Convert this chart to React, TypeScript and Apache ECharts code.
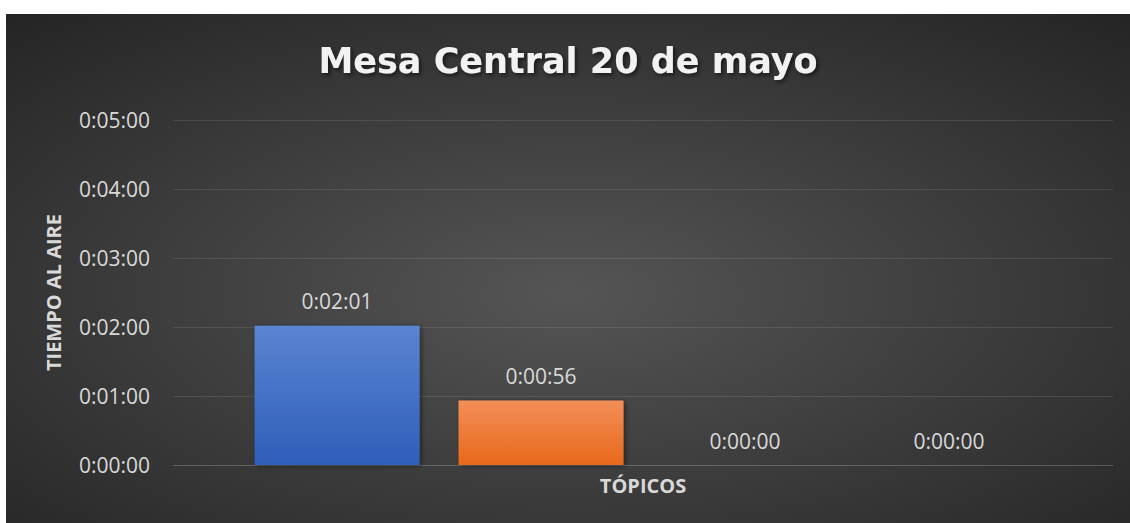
import React, { useEffect, useRef } from "react";
import * as echarts from "echarts";

const titleText = "Mesa Central 20 de mayo";
const categories = [""];
const seriesNames = ["Tópico 1", "Tópico 2", "Tópico 3", "Tópico 4"];
const seriesSeconds = [121, 56, 0, 0];
const yTicksSeconds = [0, 60, 120, 180, 240, 300];
const yAxisTitle = "TIEMPO AL AIRE";
const xAxisTitle = "TÓPICOS";

const gradients: [string, string][] = [
  ["#5b84d2", "#2e5eb9"],
  ["#f38e58", "#e8681a"],
  ["#b0b0b0", "#8c8c8c"],
  ["#ffd04a", "#f0b400"],
];

function fmt(s: number): string {
  const h = Math.floor(s / 3600);
  const m = Math.floor((s % 3600) / 60);
  const sec = Math.round(s % 60);
  return `${h}:${String(m).padStart(2, "0")}:${String(sec).padStart(2, "0")}`;
}

export default function App() {
  const ref = useRef<HTMLDivElement>(null);
  useEffect(() => {
    if (!ref.current) return;
    const chart = echarts.init(ref.current, undefined, { renderer: "svg" });
    const font = "'Open Sans', 'Liberation Sans', sans-serif";
    chart.setOption({
      animation: false,
      backgroundColor: {
        type: "radial",
        x: 0.5,
        y: 0.55,
        r: 0.75,
        colorStops: [
          { offset: 0, color: "#555555" },
          { offset: 1, color: "#242424" },
        ],
      },
      title: {
        text: titleText,
        left: "center",
        top: 24,
        textStyle: {
          fontFamily: "'DejaVu Sans', sans-serif",
          fontSize: 35,
          fontWeight: "bold",
          color: "#f2f2f2",
          textShadowColor: "rgba(0,0,0,0.6)",
          textShadowBlur: 4,
          textShadowOffsetX: 2,
          textShadowOffsetY: 2,
        },
      },
      grid: { left: 167, right: 17, top: 106, bottom: 58, containLabel: false },
      xAxis: {
        type: "category",
        data: categories,
        name: xAxisTitle,
        nameLocation: "middle",
        nameGap: 10,
        nameTextStyle: { fontFamily: font, fontSize: 20, fontWeight: "bold", color: "#d9d9d9" },
        axisLine: { lineStyle: { color: "rgba(255,255,255,0.12)" } },
        axisTick: { show: false },
        axisLabel: { show: false },
      },
      yAxis: {
        type: "value",
        min: yTicksSeconds[0],
        max: yTicksSeconds[yTicksSeconds.length - 1],
        interval: 60,
        name: yAxisTitle,
        nameLocation: "middle",
        nameRotate: 90,
        nameGap: 110,
        nameTextStyle: { fontFamily: font, fontSize: 20, fontWeight: "bold", color: "#d9d9d9" },
        axisLine: { show: false },
        axisTick: { show: false },
        axisLabel: { fontFamily: font, fontSize: 21, color: "#d9d9d9", margin: 23, formatter: (v: number) => fmt(v) },
        splitLine: { lineStyle: { color: "rgba(255,255,255,0.1)", width: 1 } },
      },
      series: seriesNames.map((name, i) => ({
        name,
        type: "bar",
        data: [seriesSeconds[i]],
        barWidth: 165,
        barGap: "23.6%",
        itemStyle: {
          color: new echarts.graphic.LinearGradient(0, 0, 0, 1, [
            { offset: 0, color: gradients[i][0] },
            { offset: 1, color: gradients[i][1] },
          ]),
          shadowColor: "rgba(0,0,0,0.45)",
          shadowBlur: 5,
          shadowOffsetX: 2,
          shadowOffsetY: 1,
        },
        label: {
          show: true,
          position: "top",
          distance: 14,
          fontFamily: font,
          fontSize: 21,
          color: "#d9d9d9",
          formatter: (p: any) => fmt(p.value),
        },
      })),
    });
    return () => chart.dispose();
  }, []);
  return (
    <div
      ref={ref}
      style={{ position: "absolute", left: 6, top: 14, width: 1124, height: 509 }}
    />
  );
}
